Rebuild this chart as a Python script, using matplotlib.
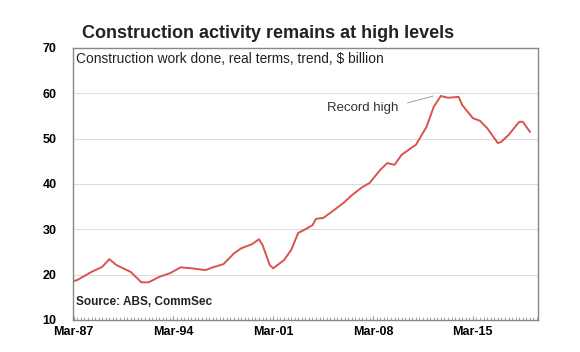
import pandas as pd
import matplotlib
matplotlib.use("Agg")
import matplotlib.pyplot as plt
import matplotlib.dates as mdates

plt.rcParams['font.family'] = ['Liberation Sans', 'DejaVu Sans']

# construction work done, real terms, trend ($bn)
dates = ["1987-03", "1987-06", "1987-12", "1988-06", "1989-03", "1989-09", "1990-03",
         "1991-03", "1991-12", "1992-06", "1993-03", "1993-12", "1994-09", "1995-06",
         "1996-06", "1996-12", "1997-09", "1998-06", "1998-12", "1999-09", "2000-03",
         "2000-06", "2000-12", "2001-03", "2001-12", "2002-06", "2002-12", "2003-06",
         "2003-12", "2004-03", "2004-09", "2005-06", "2006-03", "2006-09", "2007-06",
         "2007-12", "2008-09", "2009-03", "2009-09", "2010-03", "2010-12", "2011-03",
         "2011-12", "2012-06", "2012-12", "2013-06", "2014-03", "2014-06", "2015-03",
         "2015-09", "2016-03", "2016-12", "2017-03", "2017-09", "2018-06", "2018-09",
         "2019-03"]
work_done = [18.6, 18.8, 19.7, 20.6, 21.7, 23.4, 22.1,
             20.6, 18.3, 18.3, 19.5, 20.3, 21.6, 21.4,
             21.0, 21.6, 22.3, 24.7, 25.8, 26.7, 27.8,
             26.5, 22.1, 21.4, 23.2, 25.4, 29.2, 30.0,
             30.9, 32.3, 32.5, 34.2, 36.0, 37.5, 39.3,
             40.2, 43.1, 44.6, 44.2, 46.4, 48.1, 48.6,
             52.6, 57.0, 59.4, 59.0, 59.2, 57.4, 54.5,
             53.9, 52.3, 49.0, 49.3, 50.8, 53.7, 53.7,
             51.5]
tick_years = [1987, 1994, 2001, 2008, 2015]

df = pd.DataFrame({"date": pd.to_datetime(dates), "value": work_done})

fig = plt.figure(figsize=(5.8, 3.52), dpi=100)
ax = fig.add_axes([0.126, 0.091, 0.802, 0.773])

ax.plot(df["date"], df["value"], color="#d9534f", lw=1.4)

ax.set_ylim(10, 70)
ax.set_yticks(range(10, 71, 10))
ax.set_xlim(pd.Timestamp("1987-02-15"), pd.Timestamp("2019-10-01"))
ax.set_xticks([pd.Timestamp(f"{y}-03-01") for y in tick_years])
ax.xaxis.set_major_formatter(mdates.DateFormatter("%b-%y"))
ax.xaxis.set_minor_locator(mdates.MonthLocator(bymonth=[3, 6, 9, 12]))

for y in range(20, 61, 10):
    ax.axhline(y, color="#dddddd", lw=0.8, zorder=0)

for s in ax.spines.values():
    s.set_color("#888888")
    s.set_linewidth(1.0)

ax.tick_params(axis='y', length=0, pad=12, labelsize=9)
ax.tick_params(axis='x', which='major', length=3, direction='in', color="#999999", labelsize=9, pad=4)
ax.tick_params(axis='x', which='minor', length=2.5, direction='in', color="#999999")
for lbl in ax.get_xticklabels() + ax.get_yticklabels():
    lbl.set_fontweight('bold')

fig.text(0.462, 0.905, "Construction activity remains at high levels",
         ha='center', va='center', fontsize=13, fontweight='bold', color="#222222")
ax.text(0.007, 0.985, "Construction work done, real terms, trend, $ billion",
        transform=ax.transAxes, ha='left', va='top', fontsize=9.9, color="#222222")
ax.text(0.006, 0.065, "Source: ABS, CommSec", transform=ax.transAxes,
        ha='left', va='center', fontsize=8.5, fontweight='bold', color="#222222")

ax.annotate("Record high", xy=(pd.Timestamp("2012-09-01"), 59.6),
            xytext=(pd.Timestamp("2007-06-01"), 56.8), ha='center', va='center',
            fontsize=9.5, color="#333333",
            arrowprops=dict(arrowstyle='-', color="#aaaaaa", lw=0.8,
                            relpos=(1.0, 0.7), shrinkA=5, shrinkB=3))

fig.savefig("out.png", dpi=100)
